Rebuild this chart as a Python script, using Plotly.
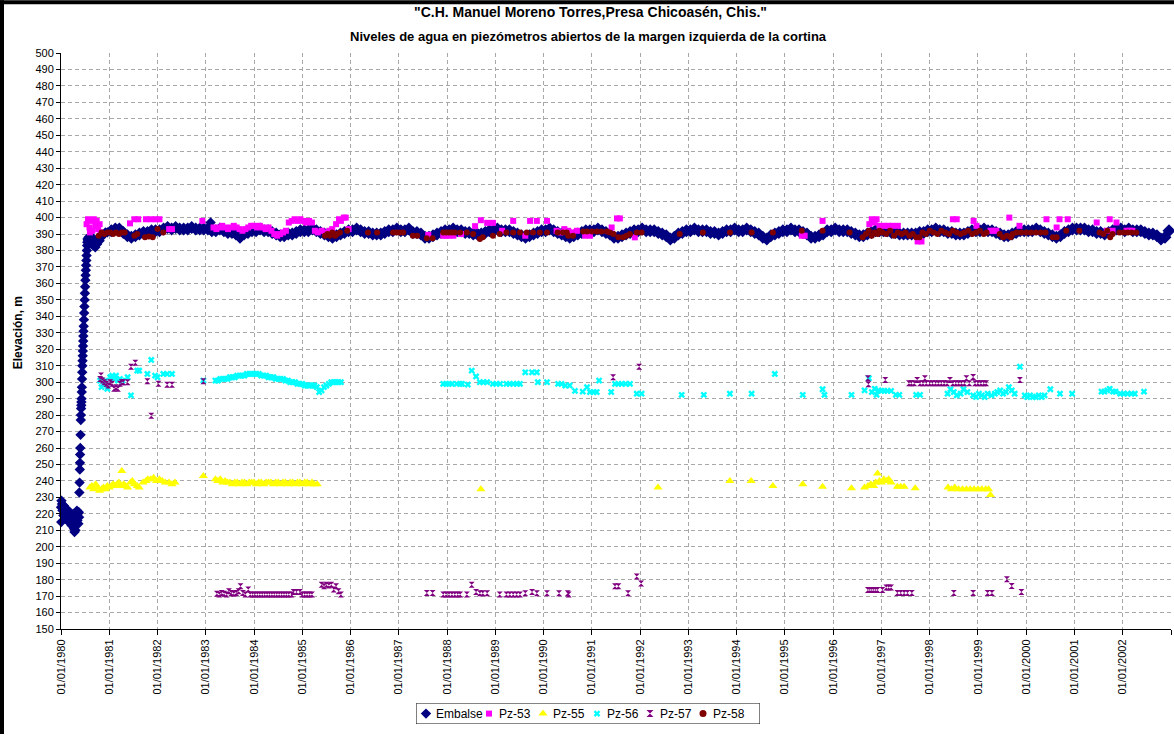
import plotly.graph_objects as go

# ---------------- axis labels ----------------
x_tick_years = [1980, 1981, 1982, 1983, 1984, 1985, 1986, 1987, 1988, 1989, 1990, 1991,
                1992, 1993, 1994, 1995, 1996, 1997, 1998, 1999, 2000, 2001, 2002, 2003]
x_tick_labels = ["01/01/1980", "01/01/1981", "01/01/1982", "01/01/1983", "01/01/1984",
                 "01/01/1985", "01/01/1986", "01/01/1987", "01/01/1988", "01/01/1989",
                 "01/01/1990", "01/01/1991", "01/01/1992", "01/01/1993", "01/01/1994",
                 "01/01/1995", "01/01/1996", "01/01/1997", "01/01/1998", "01/01/1999",
                 "01/01/2000", "01/01/2001", "01/01/2002", ""]

# ---------------- Embalse (reservoir) ----------------
embalse_1980 = [
    (1980.00, 224), (1980.005, 215), (1980.01, 228), (1980.02, 226), (1980.03, 222), (1980.05, 219),
    (1980.06, 225), (1980.08, 221), (1980.10, 217), (1980.12, 223), (1980.14, 219), (1980.16, 215),
    (1980.18, 221), (1980.20, 218), (1980.22, 213), (1980.24, 216), (1980.25, 220), (1980.27, 211),
    (1980.28, 209), (1980.30, 210), (1980.31, 218), (1980.33, 222), (1980.34, 216), (1980.35, 220),
    (1980.36, 214), (1980.37, 221), (1980.375, 218),
    (1980.380, 233), (1980.385, 239), (1980.390, 247), (1980.393, 251), (1980.396, 256), (1980.400, 260),
    (1980.405, 268), (1980.410, 277), (1980.413, 280), (1980.416, 284), (1980.420, 286), (1980.423, 288),
    (1980.426, 290), (1980.430, 294), (1980.433, 297), (1980.436, 302), (1980.440, 306), (1980.443, 310),
    (1980.446, 313), (1980.450, 316), (1980.453, 319), (1980.456, 322), (1980.460, 325), (1980.463, 328),
    (1980.466, 331), (1980.470, 334), (1980.475, 338), (1980.480, 342), (1980.485, 346), (1980.490, 350),
    (1980.495, 354), (1980.500, 358), (1980.505, 362), (1980.510, 365), (1980.515, 368), (1980.520, 371),
    (1980.525, 374), (1980.530, 377), (1980.535, 380), (1980.540, 383), (1980.545, 385), (1980.550, 387),
    (1980.56, 386), (1980.57, 388), (1980.59, 385), (1980.61, 387), (1980.63, 384), (1980.65, 388),
    (1980.67, 383), (1980.69, 386), (1980.71, 382), (1980.73, 385), (1980.75, 384), (1980.77, 387),
    (1980.80, 386), (1980.83, 388), (1980.86, 389), (1980.89, 390), (1980.92, 391), (1980.96, 391),
    (1983.10, 397),
]
embalse_month_years = list(range(1981, 2003))
embalse_monthly = [
    392, 393, 393, 391, 389, 388, 389, 390, 391, 391, 392, 392,  # 1981
    392, 393, 394, 393, 394, 393, 393, 393, 394, 393, 393, 393,  # 1982
    393, 392, 392, 393, 392, 391, 391, 390, 388, 390, 391, 392,  # 1983
    392, 393, 392, 392, 391, 390, 389, 389, 390, 390, 391, 392,  # 1984
    392, 392, 393, 392, 391, 390, 389, 388, 389, 390, 391, 392,  # 1985
    392, 393, 392, 391, 391, 390, 390, 390, 391, 392, 392, 393,  # 1986
    392, 392, 393, 391, 391, 390, 388, 388, 389, 390, 391, 392,  # 1987
    392, 393, 392, 392, 391, 391, 390, 390, 390, 391, 392, 392,  # 1988
    393, 392, 392, 392, 391, 390, 389, 388, 389, 390, 391, 392,  # 1989
    392, 393, 392, 391, 390, 389, 388, 389, 390, 391, 392, 392,  # 1990
    392, 393, 392, 391, 390, 388, 388, 389, 390, 391, 392, 392,  # 1991
    393, 392, 392, 392, 391, 390, 389, 387, 388, 390, 391, 392,  # 1992
    392, 393, 392, 392, 392, 391, 391, 390, 391, 392, 392, 393,  # 1993
    392, 392, 393, 392, 391, 390, 388, 387, 389, 390, 391, 392,  # 1994
    392, 393, 392, 392, 391, 390, 388, 388, 389, 390, 392, 392,  # 1995
    393, 392, 392, 392, 391, 390, 389, 389, 390, 391, 392, 392,  # 1996
    392, 392, 391, 391, 390, 390, 390, 390, 390, 391, 391, 392,  # 1997
    392, 393, 392, 392, 391, 391, 390, 390, 390, 391, 392, 392,  # 1998
    392, 393, 392, 392, 391, 390, 389, 389, 390, 391, 392, 392,  # 1999
    392, 392, 393, 392, 391, 390, 389, 388, 389, 391, 392, 393,  # 2000
    393, 393, 393, 392, 392, 391, 391, 390, 391, 392, 393, 393,  # 2001
    392, 393, 392, 392, 392, 391, 390, 390, 389, 387, 388, 392,  # 2002
]

# ---------------- Pz-53 ----------------
pz53_points = [
    (1980.53, 396), (1980.56, 399), (1980.59, 394), (1980.62, 398), (1980.65, 392), (1980.68, 399),
    (1980.71, 395), (1980.74, 398), (1980.77, 393), (1980.80, 396), (1980.82, 391), (1980.60, 391),
    (1981.43, 396.5), (1981.52, 399), (1981.60, 399), (1981.76, 399), (1981.86, 399), (1981.96, 399),
    (1982.04, 399), (1982.24, 393), (1982.30, 393), (1982.93, 398),
    (1983.16, 394), (1983.22, 393), (1983.28, 394), (1983.34, 395), (1983.40, 394), (1983.46, 393),
    (1983.52, 394), (1983.58, 395), (1983.64, 394), (1983.70, 393), (1983.76, 392), (1983.82, 393),
    (1983.88, 394), (1983.94, 395), (1984.00, 395), (1984.06, 394), (1984.12, 395), (1984.18, 394),
    (1984.24, 393), (1984.30, 394), (1984.36, 392), (1984.42, 390), (1984.48, 389), (1984.54, 390),
    (1984.60, 391), (1984.66, 392), (1984.72, 397), (1984.78, 398), (1984.84, 399), (1984.90, 398),
    (1984.96, 399), (1985.02, 398), (1985.08, 397), (1985.14, 398), (1985.20, 397), (1985.26, 392),
    (1985.32, 391), (1985.40, 392), (1985.48, 391), (1985.56, 392), (1985.62, 393), (1985.70, 396),
    (1985.76, 399), (1985.80, 398), (1985.86, 400), (1985.90, 400), (1985.96, 393),
    (1987.61, 389.5), (1987.92, 389), (1987.98, 389), (1988.05, 389), (1988.13, 389), (1988.29, 390),
    (1988.58, 394.8), (1988.70, 398.4), (1988.83, 396.8), (1988.95, 396.8), (1989.14, 392),
    (1989.37, 398), (1989.62, 389), (1989.72, 398), (1989.86, 398), (1990.07, 398),
    (1990.27, 392), (1990.35, 391), (1990.43, 393), (1990.51, 392), (1990.60, 391), (1990.69, 392),
    (1990.86, 389), (1990.96, 389), (1991.41, 394), (1991.52, 399.5), (1991.58, 399.5), (1991.89, 388),
    (1995.35, 389), (1995.41, 389), (1995.78, 398), (1996.75, 396), (1996.80, 399), (1996.86, 397),
    (1996.90, 399), (1996.96, 395), (1997.05, 395), (1997.14, 395), (1997.23, 395), (1997.34, 395),
    (1997.75, 385.5), (1997.83, 385.5), (1998.48, 399), (1998.56, 399), (1998.91, 398), (1998.97, 395),
    (1999.26, 392), (1999.32, 392), (1999.38, 392), (1999.65, 400), (1999.86, 395), (2000.42, 399),
    (2000.63, 394), (2000.69, 399), (2000.86, 399), (2001.46, 397), (2001.67, 392), (2001.73, 399),
    (2001.79, 392), (2001.87, 397), (2002.08, 392), (2002.14, 392), (2002.20, 392),
]

# ---------------- Pz-55 ----------------
pz55_points = [
    (1980.60, 236), (1980.64, 237), (1980.68, 235), (1980.72, 238), (1980.76, 236), (1980.80, 234),
    (1980.84, 235), (1980.88, 236), (1980.92, 235), (1980.96, 237), (1981.00, 236), (1981.04, 237),
    (1981.08, 238), (1981.12, 237), (1981.16, 238), (1981.20, 239), (1981.24, 237), (1981.26, 246),
    (1981.30, 238), (1981.34, 237), (1981.38, 236), (1981.44, 239), (1981.48, 240), (1981.52, 238),
    (1981.58, 237), (1981.62, 236), (1981.70, 239), (1981.76, 240), (1981.80, 241), (1981.86, 241),
    (1981.92, 242), (1981.98, 240), (1982.04, 241), (1982.10, 240), (1982.16, 239), (1982.24, 239),
    (1982.30, 238), (1982.36, 239), (1982.95, 243),
    (1983.20, 241), (1983.25, 240), (1983.30, 241), (1983.35, 239), (1983.40, 240), (1983.45, 239),
    (1983.50, 239), (1983.55, 238), (1983.60, 239), (1983.65, 239), (1983.70, 238), (1983.75, 239),
    (1983.80, 239), (1983.85, 238), (1983.90, 239), (1983.95, 239), (1984.00, 239), (1984.05, 238),
    (1984.10, 239), (1984.15, 239), (1984.20, 238), (1984.25, 239), (1984.30, 239), (1984.35, 239),
    (1984.40, 238), (1984.45, 239), (1984.50, 239), (1984.55, 238), (1984.60, 239), (1984.65, 239),
    (1984.70, 238), (1984.75, 239), (1984.80, 239), (1984.85, 238), (1984.90, 239), (1984.95, 239),
    (1985.00, 238), (1985.05, 239), (1985.10, 239), (1985.15, 238), (1985.20, 239), (1985.25, 238),
    (1985.31, 238),
    (1988.70, 235), (1992.37, 236), (1993.86, 240), (1994.30, 240), (1994.75, 237), (1995.37, 238),
    (1995.78, 236.5), (1996.38, 235.5), (1996.65, 236), (1996.72, 237), (1996.78, 238), (1996.84, 237),
    (1996.88, 239), (1996.92, 244.5), (1996.96, 240), (1997.00, 239), (1997.05, 241), (1997.10, 240),
    (1997.15, 241), (1997.20, 239), (1997.33, 236.5), (1997.40, 236.5), (1997.47, 236.5),
    (1997.70, 235.5), (1998.38, 236), (1998.45, 235), (1998.52, 236), (1998.60, 235), (1998.68, 235),
    (1998.76, 235), (1998.84, 235), (1998.92, 235), (1999.00, 235), (1999.08, 235), (1999.16, 235),
    (1999.22, 235), (1999.26, 231.5),
]

# ---------------- Pz-56 ----------------
pz56_points = [
    (1980.81, 301), (1980.84, 297), (1980.88, 299), (1980.92, 301), (1980.96, 296),
    (1981.02, 303), (1981.06, 304), (1981.10, 302), (1981.14, 304), (1981.18, 301), (1981.22, 302),
    (1981.27, 301), (1981.38, 303), (1981.45, 292), (1981.58, 307), (1981.62, 307), (1981.79, 305),
    (1981.87, 313.5), (1981.95, 304), (1982.00, 303), (1982.12, 305), (1982.20, 305), (1982.30, 305),
    (1982.95, 301),
    (1983.20, 301), (1983.25, 301), (1983.30, 302), (1983.35, 302), (1983.40, 302), (1983.45, 302),
    (1983.50, 303), (1983.55, 303), (1983.60, 303), (1983.65, 304), (1983.70, 304), (1983.75, 304),
    (1983.80, 304), (1983.85, 305), (1983.90, 305), (1983.95, 305), (1984.00, 305), (1984.05, 305),
    (1984.10, 305), (1984.15, 304), (1984.20, 304), (1984.25, 304), (1984.30, 303), (1984.35, 303),
    (1984.40, 303), (1984.45, 302), (1984.50, 302), (1984.55, 302), (1984.60, 302), (1984.65, 301),
    (1984.70, 301), (1984.75, 300), (1984.80, 300), (1984.85, 300), (1984.90, 299), (1984.95, 299),
    (1985.00, 299), (1985.05, 298), (1985.10, 298), (1985.15, 298), (1985.20, 298), (1985.25, 298),
    (1985.30, 297), (1985.35, 294), (1985.40, 295), (1985.45, 297), (1985.50, 298), (1985.55, 299),
    (1985.60, 300), (1985.65, 300), (1985.70, 300), (1985.75, 300), (1985.80, 300),
    (1987.92, 299), (1987.98, 299), (1988.04, 299), (1988.10, 299), (1988.20, 299), (1988.27, 299),
    (1988.31, 299), (1988.43, 298.5), (1988.51, 307), (1988.60, 303.5), (1988.68, 300), (1988.75, 300),
    (1988.83, 300), (1988.95, 299), (1989.02, 299), (1989.10, 299), (1989.23, 299), (1989.30, 299),
    (1989.37, 299), (1989.45, 299), (1989.51, 299), (1989.62, 306), (1989.76, 306), (1989.86, 306),
    (1989.88, 300), (1990.07, 300), (1990.30, 299), (1990.37, 299), (1990.45, 298), (1990.54, 298),
    (1990.65, 294.7), (1990.81, 294.3), (1990.90, 297), (1990.96, 294), (1991.04, 294), (1991.10, 294),
    (1991.15, 301), (1991.40, 294), (1991.48, 299), (1991.55, 299), (1991.62, 299), (1991.70, 299),
    (1991.79, 299), (1991.93, 293), (1992.03, 293), (1992.86, 292.3), (1993.32, 292.3), (1993.86, 293),
    (1994.31, 293), (1994.79, 305), (1995.37, 292.3), (1995.78, 295.7), (1995.82, 292.3),
    (1996.38, 292.3), (1996.65, 295), (1996.74, 302.4), (1996.80, 294), (1996.86, 296), (1996.90, 292.3),
    (1996.94, 295), (1997.00, 294.7), (1997.06, 294.7), (1997.12, 294.7), (1997.20, 294.7),
    (1997.30, 292.3), (1997.37, 292.3), (1997.72, 292.3), (1997.80, 292.3), (1998.37, 293),
    (1998.43, 295.7), (1998.50, 294), (1998.56, 292), (1998.64, 293), (1998.70, 295.7), (1998.78, 294),
    (1998.90, 292), (1998.96, 291), (1999.02, 293), (1999.08, 292), (1999.14, 291), (1999.20, 293),
    (1999.28, 292), (1999.35, 293), (1999.40, 294), (1999.46, 295), (1999.52, 293), (1999.58, 294),
    (1999.64, 297), (1999.70, 295), (1999.76, 293), (1999.87, 309.4), (1999.97, 292), (2000.02, 291),
    (2000.08, 292), (2000.14, 291), (2000.20, 291), (2000.26, 292), (2000.32, 291), (2000.38, 292),
    (2000.50, 295.7), (2000.70, 293), (2000.95, 293), (2001.56, 294.3), (2001.62, 294.3),
    (2001.68, 295), (2001.73, 296), (2001.80, 294.3), (2001.85, 294.3), (2001.95, 293), (2002.02, 293),
    (2002.10, 293), (2002.18, 293), (2002.25, 293), (2002.44, 294.3),
]

# ---------------- Pz-57 ----------------
pz57_points = [
    (1980.81, 302), (1980.83, 304), (1980.86, 301), (1980.90, 300), (1980.94, 299), (1980.98, 298),
    (1981.02, 300), (1981.06, 299), (1981.10, 296), (1981.14, 297), (1981.18, 296), (1981.22, 299),
    (1981.26, 300), (1981.29, 300), (1981.38, 300), (1981.45, 309.4), (1981.54, 311.8),
    (1981.79, 300.5), (1981.87, 279.6), (1982.02, 299), (1982.20, 298.5), (1982.30, 298.5),
    (1982.95, 300.5),
    (1983.23, 171.5), (1983.28, 171), (1983.33, 172), (1983.38, 171.5), (1983.43, 171), (1983.48, 173),
    (1983.53, 172), (1983.58, 171.5), (1983.63, 172), (1983.68, 173), (1983.72, 176), (1983.77, 172),
    (1983.82, 171), (1983.88, 174), (1983.92, 171), (1983.97, 171), (1984.02, 171), (1984.07, 171),
    (1984.12, 171), (1984.17, 171), (1984.22, 171), (1984.27, 171), (1984.32, 171), (1984.37, 171),
    (1984.42, 171), (1984.47, 171), (1984.52, 171), (1984.57, 171), (1984.62, 171), (1984.67, 171),
    (1984.72, 171), (1984.78, 171), (1984.82, 172.5), (1984.88, 172.5), (1984.95, 172.5),
    (1985.00, 171), (1985.05, 171), (1985.10, 171), (1985.15, 171), (1985.20, 171),
    (1985.40, 177), (1985.45, 176), (1985.50, 177), (1985.55, 176.5), (1985.60, 177), (1985.65, 174),
    (1985.70, 176), (1985.75, 173), (1985.80, 171),
    (1987.58, 172), (1987.70, 172),
    (1987.92, 171), (1987.98, 171), (1988.04, 171), (1988.10, 171), (1988.16, 171), (1988.22, 171),
    (1988.27, 171), (1988.41, 171), (1988.51, 177), (1988.60, 172.6), (1988.68, 171.7), (1988.74, 171.7),
    (1988.83, 171.7), (1989.09, 171), (1989.23, 171), (1989.30, 171), (1989.37, 171), (1989.44, 171),
    (1989.51, 171), (1989.62, 171.7), (1989.76, 172.6), (1989.86, 171.7), (1990.07, 171.7),
    (1990.32, 171.7), (1990.50, 171.7), (1990.52, 171),
    (1991.44, 303), (1991.98, 309.4),
    (1991.48, 176), (1991.55, 176), (1991.75, 171.7), (1991.93, 182), (1992.02, 177.7),
    (1996.72, 302.4), (1996.73, 298.8), (1997.08, 301.4), (1997.57, 299.4), (1997.62, 299.4),
    (1997.68, 299.4), (1997.74, 301.4), (1997.80, 299.4), (1997.86, 299.4), (1997.90, 302.4),
    (1997.93, 299.4), (1998.00, 299.4), (1998.06, 299.4), (1998.12, 299.4), (1998.18, 299.4),
    (1998.24, 299.4), (1998.30, 299.4), (1998.36, 299.4), (1998.42, 301.4), (1998.48, 299.4),
    (1998.54, 299.4), (1998.60, 299.4), (1998.66, 299.4), (1998.72, 299.4), (1998.76, 302.4),
    (1998.82, 299.4), (1998.90, 303.2), (1998.94, 299.4), (1999.00, 299.4), (1999.06, 299.4),
    (1999.12, 299.4), (1999.17, 299.4), (1999.87, 301.4),
    (1996.72, 173.7), (1996.76, 173.7), (1996.80, 173.7), (1996.84, 173.7), (1996.88, 173.7),
    (1996.92, 173.7), (1997.02, 173.7), (1997.10, 175.2), (1997.15, 175.2), (1997.20, 175.2),
    (1997.33, 172), (1997.40, 172), (1997.47, 172), (1997.54, 172), (1997.63, 172), (1998.50, 172),
    (1998.90, 172), (1999.20, 172), (1999.29, 172), (1999.60, 180.3), (1999.70, 176.2), (1999.90, 172.6),
]

# ---------------- Pz-58 ----------------
pz58_points = [
    (1980.78, 389), (1980.84, 391), (1980.90, 390), (1980.96, 391), (1981.02, 391), (1981.08, 390),
    (1981.14, 391), (1981.20, 390), (1981.26, 391), (1981.32, 391), (1981.52, 389), (1981.58, 390),
    (1981.74, 388), (1981.82, 388.5), (1981.90, 388), (1982.00, 393), (1982.12, 391),
    (1985.47, 389), (1985.52, 390), (1985.57, 389), (1985.62, 391), (1985.68, 389), (1985.72, 390),
    (1985.78, 391), (1985.93, 392), (1986.36, 391), (1986.55, 391), (1986.88, 391), (1986.95, 391),
    (1987.02, 391), (1987.09, 391), (1987.29, 389), (1987.38, 389), (1987.58, 387.5), (1987.70, 387.5),
    (1987.92, 391), (1987.98, 391), (1988.04, 391), (1988.10, 391), (1988.16, 391), (1988.27, 391),
    (1988.41, 391), (1988.54, 390), (1988.68, 387), (1988.74, 388), (1988.95, 389), (1989.09, 390),
    (1989.23, 391), (1989.37, 391), (1989.51, 391), (1989.65, 391), (1989.78, 391), (1989.92, 391),
    (1990.07, 391), (1990.29, 391), (1990.40, 391), (1990.48, 391), (1990.51, 389), (1990.61, 389),
    (1990.82, 391.5), (1990.90, 391.5), (1991.00, 391.5), (1991.10, 391.5), (1991.20, 391.5),
    (1991.31, 391.5), (1991.37, 391), (1991.45, 390), (1991.55, 388), (1991.65, 388), (1991.72, 389),
    (1991.79, 390), (1991.93, 391), (1992.03, 391), (1992.82, 390), (1993.30, 391), (1993.86, 391),
    (1994.31, 391), (1994.75, 391), (1995.35, 392), (1995.78, 392), (1996.34, 391),
    (1996.61, 388), (1996.68, 390), (1996.74, 392), (1996.80, 389), (1996.86, 391), (1996.92, 390),
    (1996.96, 392), (1997.02, 391), (1997.10, 390), (1997.18, 392), (1997.26, 389), (1997.34, 391),
    (1997.42, 390), (1997.50, 391), (1997.58, 389), (1997.65, 390), (1997.72, 388), (1997.79, 388),
    (1997.85, 391), (1997.92, 390), (1998.00, 392), (1998.08, 391), (1998.16, 390), (1998.24, 392),
    (1998.32, 391), (1998.40, 390), (1998.48, 392), (1998.56, 391), (1998.64, 390), (1998.72, 391),
    (1998.80, 392), (1998.88, 390), (1998.96, 391), (1999.04, 392), (1999.12, 390), (1999.18, 391),
    (1999.45, 390), (1999.52, 388), (1999.60, 389), (1999.68, 388), (1999.72, 390), (1999.80, 391),
    (1999.90, 391), (2000.00, 391), (2000.10, 391), (2000.20, 391), (2000.30, 391), (2000.40, 391),
    (2000.55, 388), (2000.63, 388), (2000.83, 392), (2001.10, 392), (2001.52, 391), (2001.60, 390),
    (2001.68, 392), (2001.74, 388), (2001.79, 390), (2001.93, 391), (2002.02, 391), (2002.10, 391),
    (2002.18, 391), (2002.28, 391),
]

series_names = ["Embalse", "Pz-53", "Pz-55", "Pz-56", "Pz-57", "Pz-58"]

# ---------------- build ----------------
emb_x = [p[0] for p in embalse_1980]
emb_y = [p[1] for p in embalse_1980]
emb_size = [8] * len(embalse_1980)
for yi, yr in enumerate(embalse_month_years):
    for m in range(12):
        emb_x.append(yr + (m + 0.5) / 12.0)
        emb_y.append(embalse_monthly[yi * 12 + m])
        emb_size.append(10)

styles = {
    "Embalse": ("diamond", "#000080"),
    "Pz-53": ("square", "#FF00FF"),
    "Pz-55": ("triangle-up", "#FFFF00"),
    "Pz-56": ("x", "#00FFFF"),
    "Pz-57": ("hourglass", "#800080"),
    "Pz-58": ("circle", "#800000"),
}
series = [
    ("Embalse", emb_x, emb_y, emb_size),
    ("Pz-53", [p[0] for p in pz53_points], [p[1] for p in pz53_points], 6),
    ("Pz-55", [p[0] for p in pz55_points], [p[1] for p in pz55_points], 8),
    ("Pz-56", [p[0] for p in pz56_points], [p[1] for p in pz56_points], 6),
    ("Pz-57", [p[0] for p in pz57_points], [p[1] for p in pz57_points], 6),
    ("Pz-58", [p[0] for p in pz58_points], [p[1] for p in pz58_points], 6),
]

fig = go.Figure()
for name, xs, ys, sz in series:
    sym, col = styles[name]
    fig.add_trace(go.Scatter(
        x=xs, y=ys, mode="markers", name=name, cliponaxis=False, showlegend=False,
        marker=dict(symbol=sym, color=col, size=sz, opacity=1, line=dict(width=0)),
    ))

# ---------------- geometry (pixels) ----------------
W, H = 1174, 738
L, R, T, B = 61, 3, 53, 5
pw = W - L - R
ph = H - T - B
PLOT_BOTTOM = 632.5


def px_x(p):
    return (p - L) / pw


def px_y(p):
    return (H - B - p) / ph


# custom legend (drawn on a hidden helper axis pair placed under the chart)
LEG_L, LEG_R, LEG_T, LEG_B = 416, 760, 707, 728
legend_symbol_x = [426, 489, 543, 597, 650, 703]
legend_text_x = [434, 497, 551, 605, 658, 711]
legend_sizes = [8, 6, 8, 6, 7, 7]

fig.add_trace(go.Scatter(
    x=legend_symbol_x, y=[0.5] * 6, xaxis="x2", yaxis="y2", mode="markers",
    showlegend=False, hoverinfo="skip", cliponaxis=False,
    marker=dict(symbol=[styles[n][0] for n in series_names],
                color=[styles[n][1] for n in series_names],
                size=legend_sizes, opacity=1, line=dict(width=0)),
))

FONT = "Liberation Sans, Arial, sans-serif"

annotations = [
    dict(text="<b>\"C.H. Manuel Moreno Torres,Presa Chicoasén, Chis.\"</b>",
         x=px_x(590), y=px_y(12), xref="paper", yref="paper", showarrow=False,
         xanchor="center", yanchor="middle", font=dict(family=FONT, size=14, color="black")),
    dict(text="<b>Niveles de agua en piezómetros abiertos de la margen izquierda de la cortina</b>",
         x=px_x(588), y=px_y(36), xref="paper", yref="paper", showarrow=False,
         xanchor="center", yanchor="middle", font=dict(family=FONT, size=13, color="black")),
    dict(text="<b>Elevación, m</b>", textangle=-90,
         x=px_x(18), y=px_y(335), xref="paper", yref="paper", showarrow=False,
         xanchor="center", yanchor="middle", font=dict(family=FONT, size=12, color="black")),
]
for name, tx in zip(series_names, legend_text_x):
    annotations.append(dict(text=name, x=tx, y=0.5, xref="x2", yref="y2", showarrow=False,
                            xanchor="left", yanchor="middle",
                            font=dict(family=FONT, size=12, color="black")))

fig.update_layout(
    width=W, height=H,
    margin=dict(l=L, r=R, t=T, b=B, pad=0),
    paper_bgcolor="white", plot_bgcolor="white",
    showlegend=False,
    font=dict(family=FONT, size=11, color="black"),
    xaxis=dict(
        range=[1980, 2003], tickmode="array", tickvals=x_tick_years, ticktext=x_tick_labels,
        tickangle=-90, tickfont=dict(family=FONT, size=11, color="black"),
        showline=True, linecolor="black", linewidth=1, mirror=False,
        ticks="outside", ticklen=5, tickcolor="black", tickwidth=1,
        showgrid=True, gridcolor="#A8A8A8", gridwidth=1, griddash="4px,3px",
        zeroline=False, anchor="y", fixedrange=True,
    ),
    yaxis=dict(
        domain=[px_y(PLOT_BOTTOM), 1],
        range=[150, 500], tickmode="linear", tick0=150, dtick=10,
        tickfont=dict(family=FONT, size=11, color="black"),
        showline=True, linecolor="black", linewidth=1,
        ticks="outside", ticklen=4, tickcolor="black", tickwidth=1,
        showgrid=True, gridcolor="#A8A8A8", gridwidth=1, griddash="4px,3px",
        zeroline=False, fixedrange=True,
    ),
    xaxis2=dict(domain=[px_x(LEG_L), px_x(LEG_R)], range=[LEG_L, LEG_R], visible=False,
                anchor="y2", fixedrange=True),
    yaxis2=dict(domain=[px_y(LEG_B), px_y(LEG_T)], range=[0, 1], visible=False,
                anchor="x2", fixedrange=True),
    annotations=annotations,
    shapes=[
        dict(type="rect", xref="x2", yref="y2", x0=LEG_L, x1=LEG_R, y0=0, y1=1,
             line=dict(color="black", width=1), fillcolor="rgba(0,0,0,0)", layer="below"),
        dict(type="line", xref="paper", yref="paper", x0=px_x(2), x1=px_x(2), y0=px_y(0), y1=px_y(H),
             line=dict(color="black", width=4)),
        dict(type="line", xref="paper", yref="paper", x0=px_x(0), x1=px_x(W), y0=px_y(2), y1=px_y(2),
             line=dict(color="black", width=4)),
    ],
)

fig.write_html("out.html", config={"displayModeBar": False},
               post_script="document.body.style.margin='0';")
